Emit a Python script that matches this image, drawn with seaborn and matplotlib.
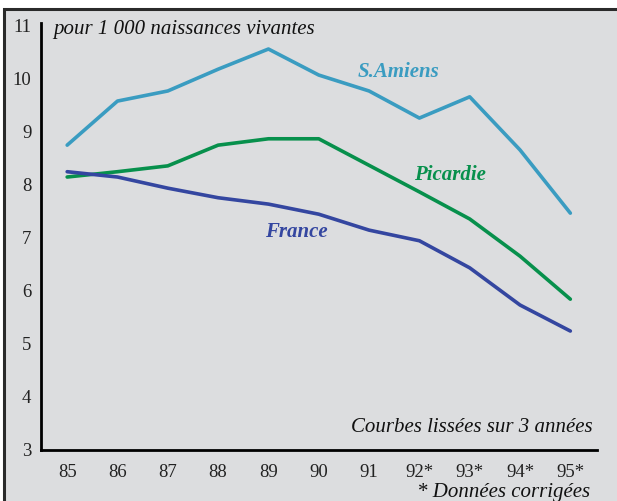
import matplotlib

matplotlib.use("Agg")
import matplotlib.pyplot as plt
import pandas as pd
import seaborn as sns
from matplotlib.patches import Rectangle

years = [85, 86, 87, 88, 89, 90, 91, 92, 93, 94, 95]
year_labels = ["85", "86", "87", "88", "89", "90", "91", "92*", "93*", "94*", "95*"]
amiens = [8.74, 9.57, 9.76, 10.17, 10.55, 10.06, 9.76, 9.25, 9.65, 8.65, 7.46]
picardie = [8.14, 8.24, 8.35, 8.74, 8.86, 8.86, 8.36, 7.86, 7.35, 6.65, 5.84]
france = [8.24, 8.14, 7.93, 7.75, 7.63, 7.44, 7.14, 6.94, 6.43, 5.73, 5.24]
y_ticks = [3, 4, 5, 6, 7, 8, 9, 10, 11]

colors = {"S.Amiens": "#3a9cc1", "Picardie": "#07904c", "France": "#3446a0"}
BG = "#dcdddf"

df = pd.concat([
    pd.DataFrame({"annee": years, "taux": amiens, "zone": "S.Amiens"}),
    pd.DataFrame({"annee": years, "taux": picardie, "zone": "Picardie"}),
    pd.DataFrame({"annee": years, "taux": france, "zone": "France"}),
])

sns.set_style("white")
plt.rcParams["font.family"] = ["Liberation Serif", "DejaVu Serif"]

fig = plt.figure(figsize=(6.17, 5.01), dpi=100)
fig.patch.set_facecolor("white")
# cadre gris (bord visible en haut et a gauche seulement), sous les axes
fig.patches.append(Rectangle((4 / 617, -0.05), 1.1, 492 / 501 + 0.05, transform=fig.transFigure,
                             facecolor=BG, edgecolor="#2a2a2a", linewidth=2.2, zorder=-10))

ax = fig.add_axes([41 / 617, 1 - 450 / 501, 556 / 617, 427 / 501])
ax.set_facecolor("none")
ax.set_zorder(5)

sns.lineplot(data=df, x="annee", y="taux", hue="zone", palette=colors,
             linewidth=2.6, legend=False, ax=ax)

ax.set_xlim(84.48, 95.53)
ax.set_ylim(3, 11.04)
ax.set_xticks(years)
ax.set_xticklabels(year_labels)
ax.set_yticks(y_ticks)
ax.tick_params(axis="both", length=0, labelsize=13.5, colors="#222222")
ax.tick_params(axis="x", pad=10)
ax.tick_params(axis="y", pad=7)
ax.set_xlabel("")
ax.set_ylabel("")

for side in ("top", "right"):
    ax.spines[side].set_visible(False)
for side in ("left", "bottom"):
    ax.spines[side].set_color("black")
    ax.spines[side].set_linewidth(2)

txt_color = "#111111"
ax.text(84.72, 10.92, "pour 1 000 naissances vivantes", fontsize=15, style="italic",
        ha="left", va="center", color=txt_color)
ax.text(95.45, 3.42, "Courbes lissées sur 3 années", fontsize=15, style="italic",
        ha="right", va="center", color=txt_color)
fig.text(590 / 617, 1 - 492 / 501, "* Données corrigées", fontsize=15, style="italic",
         ha="right", va="center", color=txt_color, zorder=6)

ax.text(91.58, 10.12, "S.Amiens", color=colors["S.Amiens"], fontsize=15,
        fontweight="bold", style="italic", ha="center", va="center")
ax.text(92.61, 8.18, "Picardie", color=colors["Picardie"], fontsize=15,
        fontweight="bold", style="italic", ha="center", va="center")
ax.text(89.55, 7.10, "France", color=colors["France"], fontsize=15,
        fontweight="bold", style="italic", ha="center", va="center")

fig.savefig("out.png", dpi=100)
